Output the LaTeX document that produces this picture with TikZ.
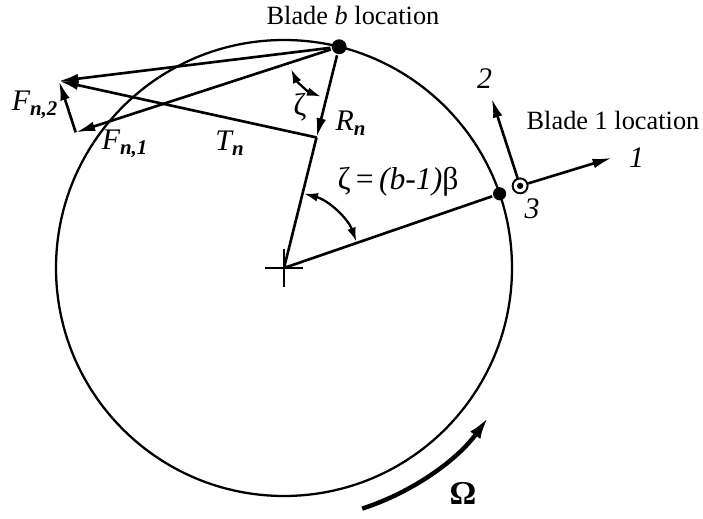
\documentclass[tikz,border=0pt]{standalone}
\usepackage{fontspec}
\setmainfont{Liberation Serif}
\usetikzlibrary{arrows.meta, positioning, calc}

\newcommand{\vsub}[1]{\textsubscript{\bfseries\itshape #1}}

\begin{document}
\begin{tikzpicture}[x=0.02cm, y=0.02cm,
		line width=1.5pt,
		every node/.style={inner sep=0pt},
		vec/.style={-{Latex[length=11pt, width=5.5pt]}, line width=1.5pt},
		dvec/.style={{Latex[length=8pt, width=5pt]}-{Latex[length=8pt, width=5pt]}, line width=1.3pt},
		spin/.style={-{Latex[length=13pt, width=7pt]}, line width=2.5pt},
		bladedot/.style={circle, fill=black, minimum size=8.5pt},
		axisout/.style={circle, draw, line width=1.1pt, minimum size=8.5pt,
			path picture={\fill (path picture bounding box.center) circle (1.8pt);}},
		lbl/.style={font=\fontsize{17}{19}\selectfont\itshape},
		txt/.style={font=\fontsize{15}{17}\selectfont}
		]
		
		\useasboundingbox (0,0) rectangle (703,519);
		
		% --- Rotor disk ---
		\coordinate (C) at (284,251);
		\draw[line width=1.3pt] (C) circle (228);
		\draw[line width=1.2pt] (C) ++(-19,0) -- ++(38,0) (C) ++(0,-19) -- ++(0,38);
		
		% --- Blade locations ---
		\node[bladedot] (bladeb) at ($(C)+(76:228)$) {};
		\node[bladedot, minimum size=7.5pt] (blade1) at ($(C)+(19:228)$) {};
		\node[txt] (bladeblab) at (353,503) {Blade \textit{b} location};
		
		% --- Force components at blade b ---
		\coordinate (Fn1) at ($(bladeb.center)+(198:277)$);
		\coordinate (Fn) at ($(Fn1)+(108:54)$);
		\coordinate (Rn) at ($(bladeb.center)!0.41!(C)$);
		
		\draw (C) -- (Rn);
		\draw (C) -- (blade1);
		\draw[vec] (bladeb) -- (Rn);
		\draw[vec] (Rn) -- (Fn);
		\draw[vec] (bladeb) -- (Fn);
		\draw[vec] (bladeb) -- (Fn1);
		\draw[vec] (Fn1) -- (Fn);
		
		\node[lbl] (Fn2lab) at (35,414) {F\vsub{n,2}};
		\node[lbl] (Fn1lab) at (125,375) {F\vsub{n,1}};
		\node[lbl] (Tnlab) at (230,376) {T\vsub{n}};
		\node[lbl] (Rnlab) at (351,396) {R\vsub{n}};
		
		% --- Angles ---
		\draw[dvec] ($(bladeb.center)+(205:53)$) arc[start angle=205, end angle=250, radius=53];
		\node[lbl, font=\fontsize{18}{20}\selectfont] (zetalab) at (300,412) {ζ};
		\draw[dvec] ($(C)+(75:77)$) arc[start angle=75, end angle=20, radius=77];
		\node[lbl, font=\fontsize{18}{20}\selectfont] (anglab) at (398,337) {ζ\,=\,\textit{(b-1)}β};
		
		% --- Blade 1 frame ---
		\node[axisout] (ax3) at ($(blade1.center)+(21:22)$) {};
		\coordinate (tip1) at ($(ax3)+(17:96)$);
		\coordinate (tip2) at ($(ax3)+(108:92)$);
		\draw[vec] (ax3) -- (tip1);
		\draw[vec] (ax3) -- (tip2);
		\node[lbl, right=9pt of tip1] (one) {1};
		\node[lbl, above=5pt of tip2, xshift=-4pt] (two) {2};
		\node[lbl] (three) at ($(ax3)+(12,-23)$) {3};
		\node[txt] (blade1lab) at (613,399) {Blade 1 location};
		
		% --- Rotation ---
		\draw[spin] ($(C)+(-72:253)$) arc[start angle=-72, end angle=-36, radius=253];
		\node[lbl, font=\fontsize{19}{21}\selectfont\bfseries] (omega) at (463,26) {Ω};
		
	\end{tikzpicture}
\end{document}
